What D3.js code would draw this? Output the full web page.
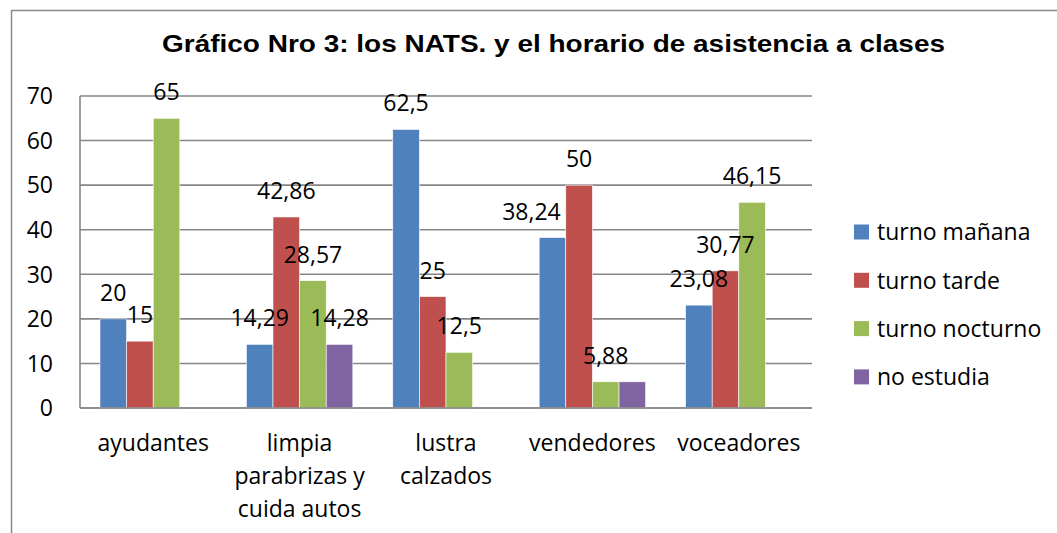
<!DOCTYPE html>
<html><head><meta charset="utf-8">
<script src="https://cdn.jsdelivr.net/npm/d3@7"></script>
<style>body{margin:0;background:#fff}svg{display:block}</style>
</head><body>
<svg id="c" width="1057" height="533"></svg>
<script>
const categories = [["ayudantes"], ["limpia","parabrizas y","cuida autos"], ["lustra","calzados"], ["vendedores"], ["voceadores"]];
const seriesNames = ["turno mañana","turno tarde","turno nocturno","no estudia"];
const turnoManana = [20, 14.29, 62.5, 38.24, 23.08];
const turnoTarde = [15, 42.86, 25, 50, 30.77];
const turnoNocturno = [65, 28.57, 12.5, 5.88, 46.15];
const noEstudia = [null, 14.28, null, 5.88, null];
const noEstudiaLabels = [null, "14,28", null, null, null];
const yTicks = [0,10,20,30,40,50,60,70];
const colors = ["#4F81BD","#C0504D","#9BBB59","#8064A2"];
const title = "Gráfico Nro 3: los NATS. y el horario de asistencia a clases";

const seriesValues = [turnoManana, turnoTarde, turnoNocturno, noEstudia];
const fmt = v => v == null ? null : String(v).replace(".", ",");
const seriesLabels = [turnoManana.map(fmt), turnoTarde.map(fmt), turnoNocturno.map(fmt), noEstudiaLabels];

const svg = d3.select("#c");
const font = "'Open Sans', sans-serif";
const fs = 23;
const m = {left:80, right:812, top:96, bottom:408};

// outer chart border
svg.append("rect").attr("x",11.5).attr("y",10.5).attr("width",1100).attr("height",600)
  .attr("fill","none").attr("stroke","#898989").attr("stroke-width",1.5);

svg.append("text").attr("x",162).attr("y",52)
  .attr("font-family","Arial, 'Liberation Sans', sans-serif").attr("font-weight","bold")
  .attr("font-size",24).attr("fill","#000")
  .attr("textLength",783).attr("lengthAdjust","spacingAndGlyphs").text(title);

const x0 = d3.scaleBand().domain(d3.range(categories.length)).range([m.left, m.right]).paddingInner(0).paddingOuter(0);
const bw = x0.bandwidth();
const barW = bw / (seriesNames.length + 1.5); // gap width 150%
const x1 = d3.scaleBand().domain(d3.range(seriesNames.length))
  .range([barW*0.75, barW*0.75 + barW*seriesNames.length]);
const y = d3.scaleLinear().domain([0,70]).range([m.bottom, m.top]);

// gridlines
svg.append("g").selectAll("line").data(yTicks).join("line")
  .attr("x1", m.left).attr("x2", m.right).attr("y1", d=>y(d)).attr("y2", d=>y(d))
  .attr("stroke","#868686").attr("stroke-width",1.6);
svg.append("line").attr("x1",m.left).attr("x2",m.left).attr("y1",m.top).attr("y2",m.bottom)
  .attr("stroke","#868686").attr("stroke-width",1.6);

// y tick labels
svg.append("g").selectAll("text").data(yTicks).join("text")
  .attr("x", 53).attr("y", d=>y(d)).attr("dy","0.36em").attr("text-anchor","end")
  .attr("font-family",font).attr("font-size",fs).attr("fill","#000").text(d=>d);

// bars
seriesValues.forEach((vals, s) => {
  svg.append("g").selectAll("rect").data(vals.map((v,i)=>({v,i}))).join("rect")
    .filter(d=>d.v!=null)
    .attr("x", d=>x0(d.i)+x1(s)).attr("width", x1.bandwidth())
    .attr("y", d=>y(d.v)).attr("height", d=>y(0)-y(d.v))
    .attr("fill", colors[s]).attr("stroke","#fff").attr("stroke-width",0.6);
});
svg.append("line").attr("x1",m.left).attr("x2",m.right).attr("y1",m.bottom).attr("y2",m.bottom)
  .attr("stroke","#868686").attr("stroke-width",1.6);

// value labels
const nudge = {"3-0": -21};
seriesValues.forEach((vals, s) => {
  svg.append("g").selectAll("text").data(vals.map((v,i)=>({v,i,l:seriesLabels[s][i]}))).join("text")
    .filter(d=>d.v!=null && d.l!=null)
    .attr("x", d=>x0(d.i)+x1(s)+x1.bandwidth()/2 + (nudge[d.i+"-"+s]||0))
    .attr("y", d=>y(d.v)-18).attr("text-anchor","middle")
    .attr("font-family",font).attr("font-size",fs).attr("fill","#000").text(d=>d.l);
});

// category labels
const cat = svg.append("g").selectAll("text").data(categories).join("text")
  .attr("x",(d,i)=>x0(i)+bw/2).attr("y",451).attr("text-anchor","middle")
  .attr("font-family",font).attr("font-size",fs).attr("fill","#000");
cat.selectAll("tspan").data(d=>d).join("tspan")
  .attr("x",function(){return this.parentNode.getAttribute("x");})
  .attr("dy",(d,i)=>i?33:0).text(d=>d);

// legend
const lg = svg.append("g").selectAll("g").data(seriesNames).join("g")
  .attr("transform",(d,i)=>`translate(854,${232+i*48.3})`);
lg.append("rect").attr("x",0).attr("y",-7.5).attr("width",15).attr("height",15).attr("fill",(d,i)=>colors[i]);
lg.append("text").attr("x",23).attr("dy","0.36em").attr("font-family",font).attr("font-size",fs).attr("fill","#000").text(d=>d);
</script>
</body></html>
